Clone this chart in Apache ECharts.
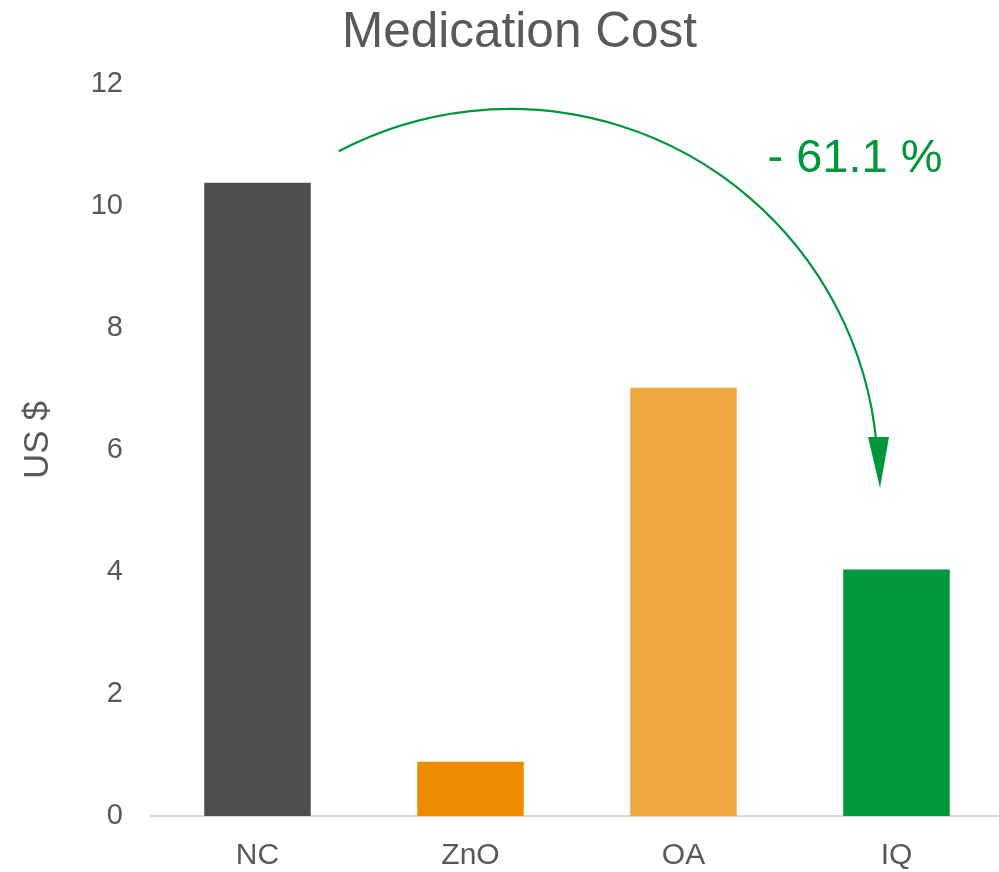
<!DOCTYPE html>
<html>
<head>
<meta charset="utf-8">
<script src="https://cdn.jsdelivr.net/npm/echarts@6/dist/echarts.min.js"></script>
<style>
  html, body { margin: 0; padding: 0; background: #fff; overflow: hidden; }
  #main { width: 1004px; height: 872px; }
</style>
</head>
<body>
<div id="main"></div>
<script>
// data
var categories = ['NC', 'ZnO', 'OA', 'IQ'];
var costs = [10.38, 0.89, 7.02, 4.04];
var barColors = ['#4d4d4d', '#ed8b00', '#f0a841', '#00963a'];
var changeLabel = '- 61.1 %';
var yName = 'US $';

var chart = echarts.init(document.getElementById('main'));
var green = '#00963a';
var grey = '#595959';

var option = {
    animation: false,
    title: {
        text: 'Medication Cost',
        left: 514.5,
        textAlign: 'center',
        top: 3,
        textStyle: { fontFamily: 'Liberation Sans', fontSize: 49.5, fontWeight: 'normal', color: grey }
    },
    grid: { left: 151, width: 852, top: 84, bottom: 56 },
    xAxis: {
        type: 'category',
        data: categories,
        axisTick: { show: false },
        axisLine: { lineStyle: { color: '#d9d9d9', width: 2 } },
        axisLabel: { margin: 25, fontFamily: 'Liberation Sans', fontSize: 30, color: grey }
    },
    yAxis: {
        type: 'value',
        min: 0, max: 12, interval: 2,
        splitLine: { show: false },
        axisLine: { show: false },
        axisTick: { show: false },
        axisLabel: { margin: 28, fontFamily: 'Liberation Sans', fontSize: 29, color: grey }
    },
    series: [{
        type: 'bar',
        barWidth: '50%',
        data: costs.map(function (v, i) {
            return { value: v, itemStyle: { color: barColors[i] } };
        })
    }]
};
chart.setOption(option);

// axis name + arrow annotation from NC to IQ
chart.setOption({
    graphic: [
        {
            type: 'text',
            x: 38, y: 440,
            rotation: Math.PI / 2,
            style: {
                text: yName,
                fontFamily: 'Liberation Sans', fontSize: 35,
                fill: grey, align: 'center', verticalAlign: 'middle'
            }
        },
        {
            type: 'arc',
            shape: { cx: 510, cy: 477, r: 368, startAngle: -2.055, endAngle: -0.085, clockwise: true },
            style: { stroke: green, lineWidth: 2.2, fill: null }
        },
        {
            type: 'polygon',
            shape: { points: [[868, 437], [889, 437], [880, 488]] },
            style: { fill: green }
        },
        {
            type: 'text',
            x: 855, y: 159,
            style: {
                text: changeLabel,
                fontFamily: 'Liberation Sans', fontSize: 47,
                fill: green, align: 'center', verticalAlign: 'middle'
            }
        }
    ]
});
</script>
</body>
</html>
